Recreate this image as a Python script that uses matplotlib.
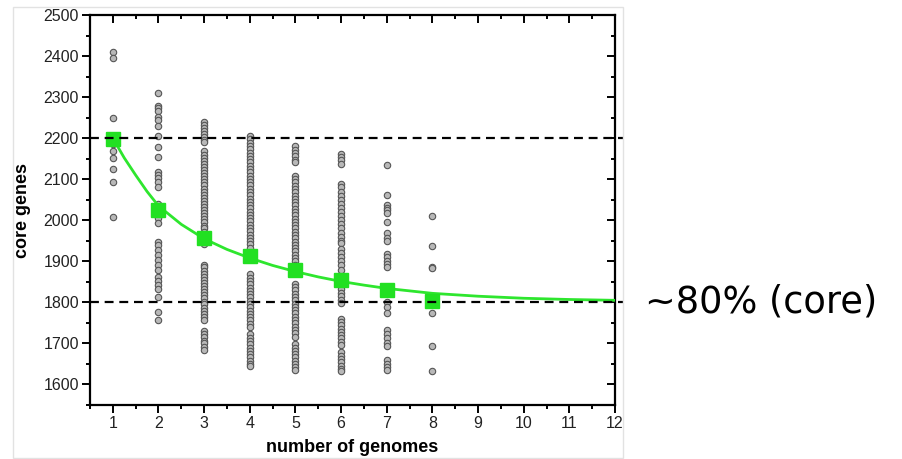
import matplotlib.pyplot as plt
import matplotlib
from matplotlib.patches import Rectangle

matplotlib.rcParams.update({'font.family': ['Liberation Sans', 'DejaVu Sans']})

# observed core gene counts per number of genomes
col1 = [2410, 2395, 2250, 2200, 2185, 2168, 2152, 2125, 2093, 2008]
col2 = [2311, 2279, 2273, 2266, 2252, 2244, 2229, 2206, 2179, 2153, 2118, 2110, 2102,
        2094, 2082, 2040, 2005, 1994, 1948, 1940, 1927, 1915, 1903, 1891, 1879, 1862,
        1853, 1842, 1832, 1813, 1777, 1757]
col3 = [2240, 2232, 2225, 2218, 2210, 2203, 2196, 2190,
        2168, 2160, 2152, 2145, 2137, 2130, 2122, 2115, 2107, 2100, 2092, 2085, 2077,
        2070, 2062, 2055, 2047, 2040, 2032, 2025, 2017, 2010, 2002, 1995, 1987, 1980,
        1972, 1965, 1958, 1950, 1943,
        1892, 1885, 1877, 1870, 1862, 1855, 1847, 1840, 1832, 1825, 1817, 1810, 1802,
        1795, 1787, 1780, 1772, 1765, 1758,
        1730, 1722, 1715, 1707, 1700, 1692, 1685]
col4 = [2205, 2197, 2189, 2181, 2173, 2165, 2157, 2149, 2141, 2133, 2125, 2117, 2109,
        2101, 2093, 2085, 2077, 2069, 2061, 2053, 2045, 2037, 2029, 2021, 2013, 2005,
        1997, 1989, 1981, 1973, 1965, 1957, 1949, 1941, 1933, 1918,
        1868, 1860, 1852, 1844, 1836, 1828, 1820, 1812, 1804, 1796, 1788, 1780, 1772,
        1764, 1756, 1748, 1740,
        1722, 1714, 1706, 1698, 1690, 1682, 1674, 1666, 1658, 1650, 1644]
col5 = [2180, 2172, 2164, 2156, 2148, 2142,
        2108, 2100, 2092, 2084, 2076, 2068, 2060, 2052, 2044, 2036, 2028, 2020, 2012,
        2004, 1996, 1988, 1980, 1972, 1964, 1956, 1948, 1940, 1932, 1924, 1916, 1908,
        1900, 1892,
        1845, 1837, 1829, 1821, 1813, 1805, 1797, 1789, 1781, 1773, 1765, 1757, 1749,
        1741, 1733, 1725, 1715,
        1698, 1690, 1682, 1674, 1666, 1658, 1650, 1642, 1636]
col6 = [2162, 2154, 2146, 2138,
        2088, 2080, 2070, 2060, 2050, 2040, 2030, 2020, 2010, 2000, 1990, 1980, 1970,
        1960, 1950, 1945,
        1930, 1920, 1910, 1900, 1890, 1880,
        1842, 1833, 1824, 1815, 1806, 1798,
        1760, 1752, 1744, 1736, 1728, 1720, 1712, 1704, 1696,
        1678, 1670, 1662, 1654, 1646, 1638, 1632]
col7 = [2134, 2061, 2037, 2031, 2025, 2018, 1996, 1968, 1958, 1950, 1918, 1910, 1901,
        1893, 1887, 1801, 1789, 1774, 1732, 1723, 1712, 1701, 1693, 1659, 1651, 1643,
        1635]
col8 = [2011, 1938, 1887, 1883, 1773, 1693, 1632]
columns = [col1, col2, col3, col4, col5, col6, col7, col8]

# mean core genes per number of genomes
mean_x = [1, 2, 3, 4, 5, 6, 7, 8]
mean_y = [2197, 2025, 1956, 1912, 1879, 1854, 1830, 1803]

# fitted decay curve
fit_x = [1, 1.25, 1.5, 1.75, 2, 2.5, 3, 3.5, 4, 4.5, 5, 5.5, 6, 6.5, 7, 7.5, 8, 9, 10, 11, 12]
fit_y = [2200, 2152, 2110, 2070, 2035, 1990, 1955, 1929, 1908, 1890, 1875, 1862, 1851,
         1842, 1834, 1828, 1822, 1815, 1810, 1807, 1805]

ref_levels = [2200, 1800]

fg = plt.figure(figsize=(9.03, 4.59), dpi=100)
ax = fg.add_axes([90 / 903, 1 - 405 / 459, 525 / 903, 390 / 459])

for i, vals in enumerate(columns):
    ax.plot([i + 1] * len(vals), vals, linestyle='none', marker='o', markersize=4.6,
            markerfacecolor='#b8b8b8', markeredgecolor='#555555', markeredgewidth=0.8,
            zorder=2)

ax.plot(fit_x, fit_y, color='#2ee62e', linewidth=2, zorder=3)
ax.plot(mean_x, mean_y, linestyle='none', marker='s', markersize=9.5,
        color='#22e022', zorder=4)

for lv in ref_levels:
    ax.plot([0.5, 12.18], [lv, lv], color='black', linewidth=1.6, dashes=(4, 2.6),
            clip_on=False, zorder=5)

ax.set_xlim(0.5, 12)
ax.set_ylim(1550, 2500)
ax.set_xticks(range(1, 13))
ax.set_xticks([x + 0.5 for x in range(0, 12)], minor=True)
ax.set_yticks(range(1600, 2501, 100))
ax.set_yticks(range(1550, 2500, 100), minor=True)

for s in ax.spines.values():
    s.set_linewidth(1.6)
ax.tick_params(which='both', direction='out', width=1.4, labelsize=11.5, colors='black',
               labelcolor='#222222')
ax.tick_params(which='major', length=6, pad=2)
ax.tick_params(which='minor', length=3)
ax.tick_params(which='both', top=True, right=True)
# top/right mirror ticks point into the frame
for t in ax.xaxis.get_major_ticks() + ax.xaxis.get_minor_ticks():
    t.tick2line.set_marker(matplotlib.lines.TICKDOWN)
for t in ax.yaxis.get_major_ticks() + ax.yaxis.get_minor_ticks():
    t.tick2line.set_marker(matplotlib.lines.TICKLEFT)

ax.set_xlabel("number of genomes", fontsize=13, fontweight='bold', labelpad=6)
ax.set_ylabel("core genes", fontsize=13, fontweight='bold', labelpad=9)

fg.text(645 / 903, 1 - 302 / 459, "~80% (core)", fontsize=26.5, family='DejaVu Sans',
        va='center', ha='left')

fg.patches.append(Rectangle((13 / 903, 1 / 459), 610 / 903, 451 / 459, fill=False,
                            edgecolor='#e2e2e2', linewidth=1, transform=fg.transFigure))

fg.savefig("out.png", dpi=100)
